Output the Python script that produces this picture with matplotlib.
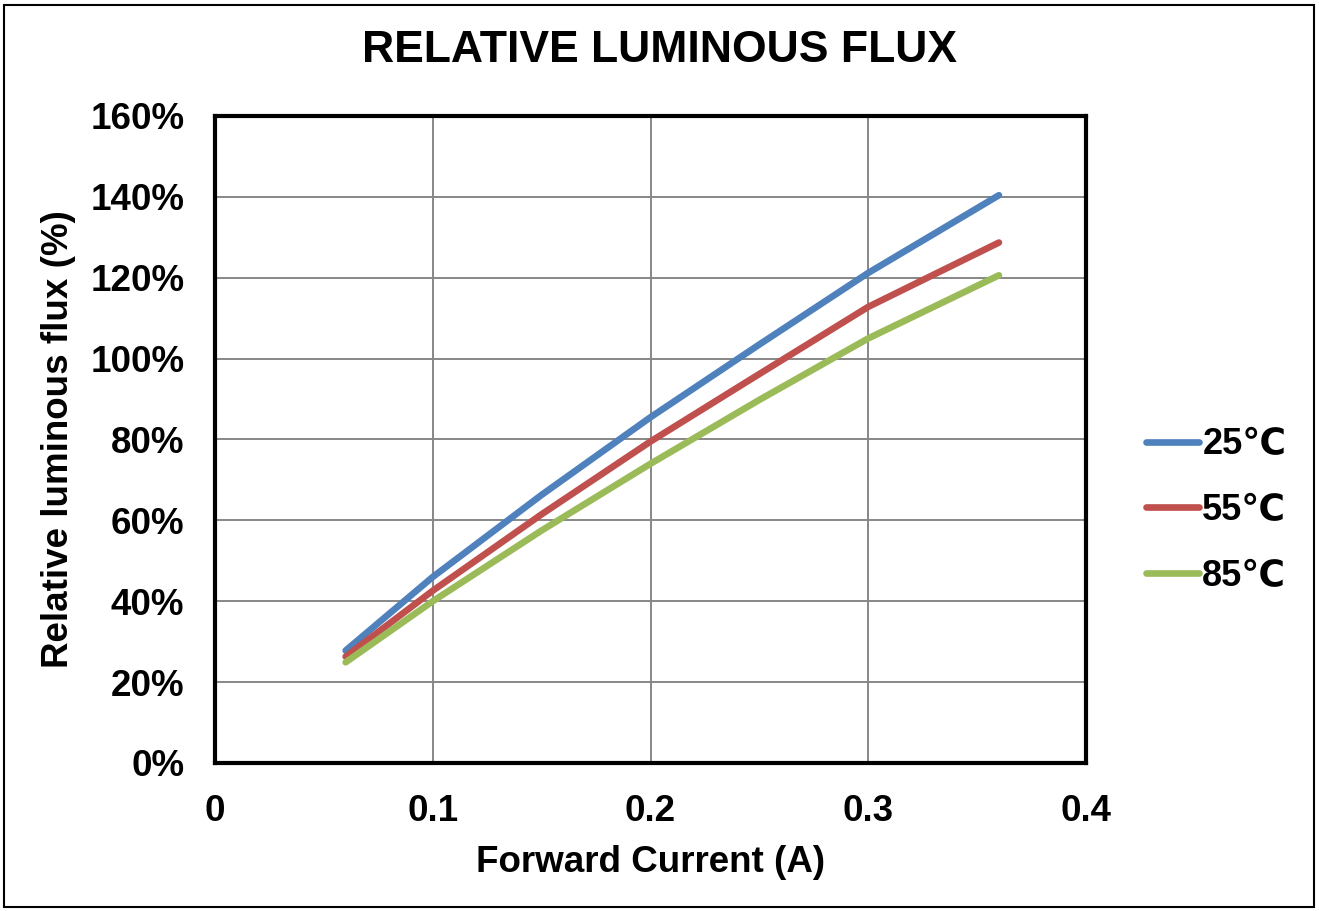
import matplotlib.pyplot as plt
import numpy as np
from matplotlib.patches import Rectangle

plt.rcParams['font.family'] = ['Liberation Sans', 'DejaVu Sans']
plt.rcParams['font.weight'] = 'bold'

current = [0.06, 0.10, 0.15, 0.20, 0.25, 0.30, 0.36]
flux_25 = [27.8, 46.0, 66.3, 85.5, 103.5, 121.2, 140.4]
flux_55 = [26.3, 42.6, 61.5, 79.5, 96.2, 112.8, 128.7]
flux_85 = [24.9, 40.0, 57.5, 74.0, 89.8, 105.0, 120.6]
labels = ["25℃", "55℃", "85℃"]
colors = ["#4F81BD", "#C0504D", "#9BBB59"]


def main():
    fig = plt.figure(figsize=(13.19, 9.11), dpi=100)
    ax = fig.add_axes([0.163, 0.1625, 0.6604, 0.7102])

    for y, lab, c in zip([flux_25, flux_55, flux_85], labels, colors):
        ax.plot(current, y, color=c, linewidth=4.8, solid_capstyle="round",
                solid_joinstyle="round", label=lab)

    ax.set_xlim(0, 0.4)
    ax.set_ylim(0, 160)
    ax.set_xticks(np.arange(0, 0.41, 0.1))
    ax.set_xticklabels(["0", "0.1", "0.2", "0.3", "0.4"])
    ax.set_yticks(np.arange(0, 161, 20))
    ax.set_yticklabels([f"{v}%" for v in range(0, 161, 20)])
    ax.tick_params(length=0, labelsize=26.5, pad=22)
    ax.grid(True, color="#878787", linewidth=1.4)
    ax.set_axisbelow(True)
    for s in ax.spines.values():
        s.set_linewidth(3)
        s.set_color("black")

    ax.set_xlabel("Forward Current (A)", fontsize=26.5, fontweight="bold",
                  labelpad=12)
    ax.set_ylabel("Relative luminous flux (%)", fontsize=26.5,
                  fontweight="bold", labelpad=10)
    fig.text(0.5, 0.945, "RELATIVE LUMINOUS FLUX", ha="center", va="center",
             fontsize=32, fontweight="bold")

    leg = ax.legend(loc="center left", bbox_to_anchor=(1.031, 0.39),
                    frameon=False, fontsize=26, handlelength=1.47,
                    handletextpad=0.1, labelspacing=0.85)
    for t in leg.get_texts():
        t.set_fontweight("bold")

    fig.patches.append(Rectangle((0.003, 0.004), 0.993, 0.99,
                                 transform=fig.transFigure, fill=False,
                                 edgecolor="black", linewidth=1.5))

    fig.savefig("out.png", dpi=100)


if __name__ == "__main__":
    main()
